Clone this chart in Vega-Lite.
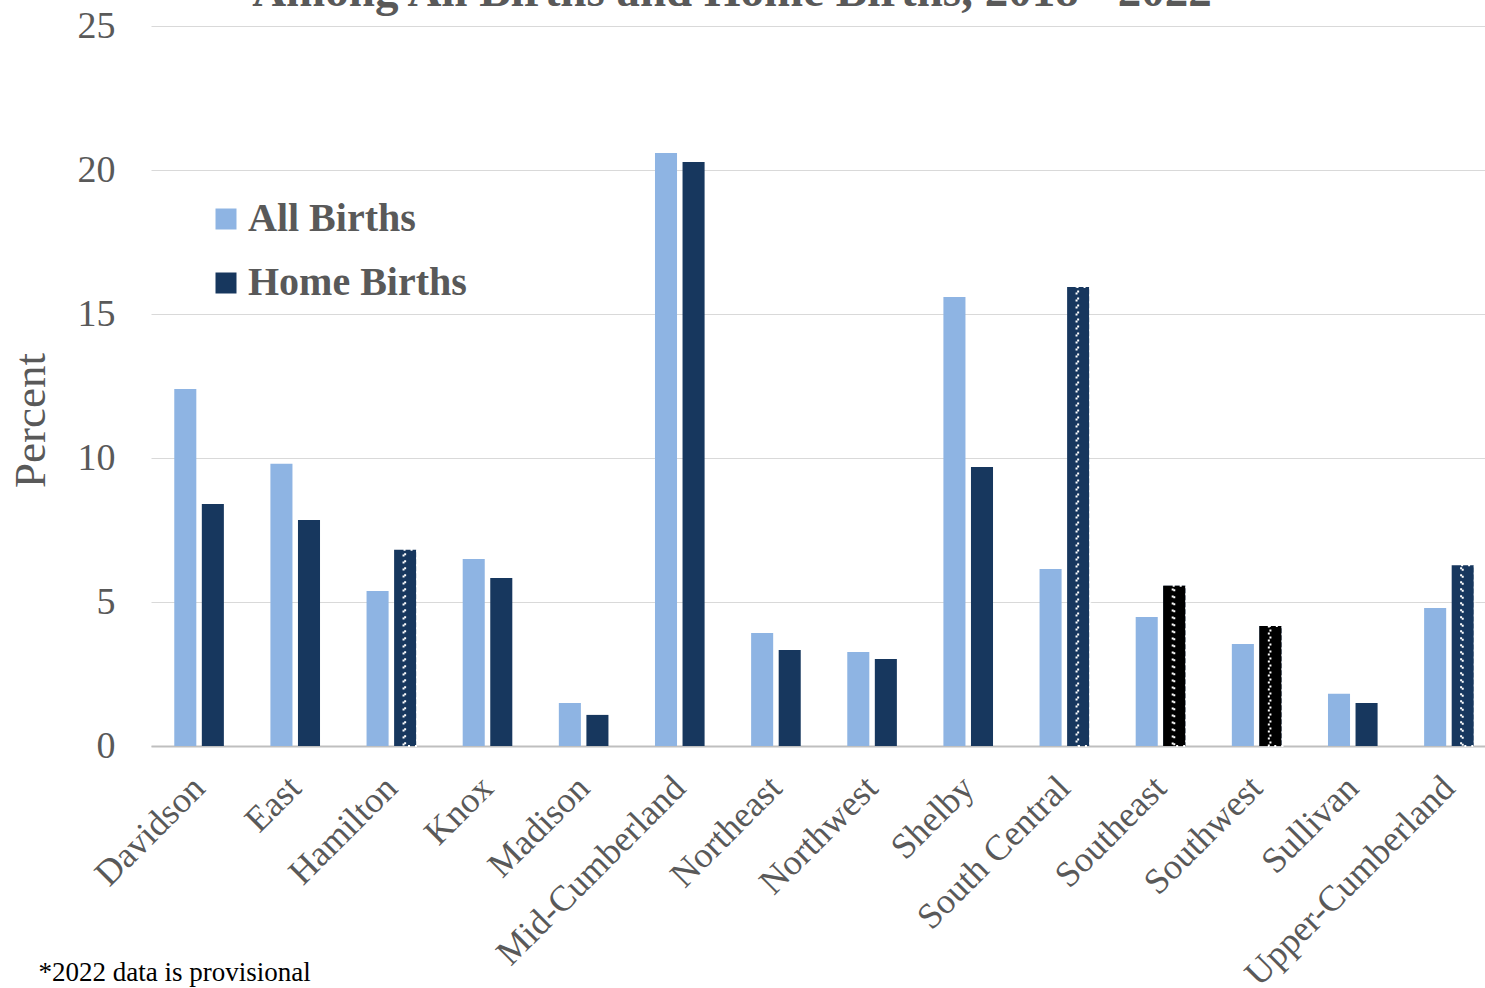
{
  "$schema": "https://vega.github.io/schema/vega-lite/v6.json",
  "autosize": {"type": "none"},
  "padding": {"left": 151, "top": 26, "right": 0, "bottom": 242},
  "width": 1346,
  "height": 720,
  "background": "white",
  "title": {
    "text": "Among All Births and Home Births, 2018 - 2022",
    "font": "Liberation Serif",
    "fontSize": 47,
    "fontWeight": "bold",
    "color": "#595959",
    "anchor": "middle",
    "baseline": "alphabetic",
    "offset": 4,
    "dx": -92,
    "dy": 50
  },
  "config": {
    "view": {"stroke": null},
    "font": "Liberation Serif"
  },
  "data": {
    "values": [
      {"region": "Davidson", "series": "All Births", "value": 12.4},
      {"region": "Davidson", "series": "Home Births", "value": 8.4},
      {"region": "East", "series": "All Births", "value": 9.8},
      {"region": "East", "series": "Home Births", "value": 7.85},
      {"region": "Hamilton", "series": "All Births", "value": 5.38},
      {"region": "Hamilton", "series": "Home Births", "value": 6.81},
      {"region": "Knox", "series": "All Births", "value": 6.49},
      {"region": "Knox", "series": "Home Births", "value": 5.83},
      {"region": "Madison", "series": "All Births", "value": 1.49},
      {"region": "Madison", "series": "Home Births", "value": 1.08},
      {"region": "Mid-Cumberland", "series": "All Births", "value": 20.59},
      {"region": "Mid-Cumberland", "series": "Home Births", "value": 20.28},
      {"region": "Northeast", "series": "All Births", "value": 3.92},
      {"region": "Northeast", "series": "Home Births", "value": 3.33},
      {"region": "Northwest", "series": "All Births", "value": 3.26},
      {"region": "Northwest", "series": "Home Births", "value": 3.02},
      {"region": "Shelby", "series": "All Births", "value": 15.59},
      {"region": "Shelby", "series": "Home Births", "value": 9.69},
      {"region": "South Central", "series": "All Births", "value": 6.15},
      {"region": "South Central", "series": "Home Births", "value": 15.94},
      {"region": "Southeast", "series": "All Births", "value": 4.48},
      {"region": "Southeast", "series": "Home Births", "value": 5.56},
      {"region": "Southwest", "series": "All Births", "value": 3.54},
      {"region": "Southwest", "series": "Home Births", "value": 4.17},
      {"region": "Sullivan", "series": "All Births", "value": 1.81},
      {"region": "Sullivan", "series": "Home Births", "value": 1.49},
      {"region": "Upper-Cumberland", "series": "All Births", "value": 4.79},
      {"region": "Upper-Cumberland", "series": "Home Births", "value": 6.28}
    ]
  },
  "encoding": {
    "x": {
      "field": "region",
      "type": "nominal",
      "sort": null,
      "scale": {"paddingInner": 0.484, "paddingOuter": 0.242},
      "axis": {
        "title": "*2022 data is provisional",
        "titleFont": "Liberation Serif",
        "titleFontSize": 27,
        "titleFontWeight": "normal",
        "titleColor": "#000000",
        "titleAnchor": "start",
        "titleAlign": "left",
        "titleBaseline": "alphabetic",
        "titleX": -113,
        "titleY": 234,
        "labelAngle": -45,
        "labelAlign": "right",
        "labelBaseline": "middle",
        "labelFont": "Liberation Serif",
        "labelFontSize": 36,
        "labelColor": "#595959",
        "labelPadding": 36,
        "labelLimit": 400,
        "ticks": false,
        "domainColor": "#bfbfbf",
        "domainWidth": 2,
        "grid": false
      }
    },
    "xOffset": {
      "field": "series",
      "type": "nominal",
      "scale": {"domain": ["All Births", "Home Births"], "paddingInner": 0.2}
    },
    "y": {
      "field": "value",
      "type": "quantitative",
      "scale": {"domain": [0, 25], "nice": false},
      "axis": {
        "title": "Percent",
        "titleFont": "Liberation Serif",
        "titleFontSize": 45,
        "titleFontWeight": "normal",
        "titleColor": "#595959",
        "titleAngle": 270,
        "titleAlign": "center",
        "titleBaseline": "alphabetic",
        "titleX": -107,
        "titleY": 394,
        "values": [0, 5, 10, 15, 20, 25],
        "labelFont": "Liberation Serif",
        "labelFontSize": 38,
        "labelColor": "#595959",
        "labelPadding": 36,
        "ticks": false,
        "domain": false,
        "gridColor": "#d9d9d9",
        "gridWidth": 1
      }
    }
  },
  "layer": [
    {
      "mark": {"type": "bar"},
      "encoding": {
        "color": {
          "field": "series",
          "type": "nominal",
          "scale": {"domain": ["All Births", "Home Births"], "range": ["#8eb4e3", "#17375e"]},
          "legend": {
            "title": null,
            "orient": "none",
            "legendX": 55,
            "legendY": 173,
            "symbolType": "square",
            "symbolSize": 441,
            "symbolStrokeWidth": 0,
            "labelFont": "Liberation Serif",
            "labelFontSize": 40,
            "labelFontWeight": "bold",
            "labelColor": "#595959",
            "labelOffset": 2,
            "rowPadding": 24,
            "labelLimit": 400
          }
        }
      }
    },
    {
      "transform": [
        {"filter": "datum.series === 'Home Births' && indexof(['Southeast', 'Southwest'], datum.region) >= 0"}
      ],
      "mark": {"type": "bar", "color": "#000000"}
    },
    {
      "transform": [
        {"filter": "datum.series === 'Home Births' && indexof(['Hamilton', 'South Central', 'Southeast', 'Southwest', 'Upper-Cumberland'], datum.region) >= 0"}
      ],
      "layer": [
        {
          "mark": {"type": "bar", "fill": null, "fillOpacity": 0, "stroke": "white", "strokeWidth": 2, "strokeDash": [2, 5], "width": {"band": 0.62}}
        },
        {
          "mark": {"type": "rule", "color": "white", "strokeWidth": 2, "strokeDash": [2, 5], "strokeDashOffset": 3.5},
          "encoding": {"y2": {"datum": 0}}
        }
      ]
    }
  ]
}
